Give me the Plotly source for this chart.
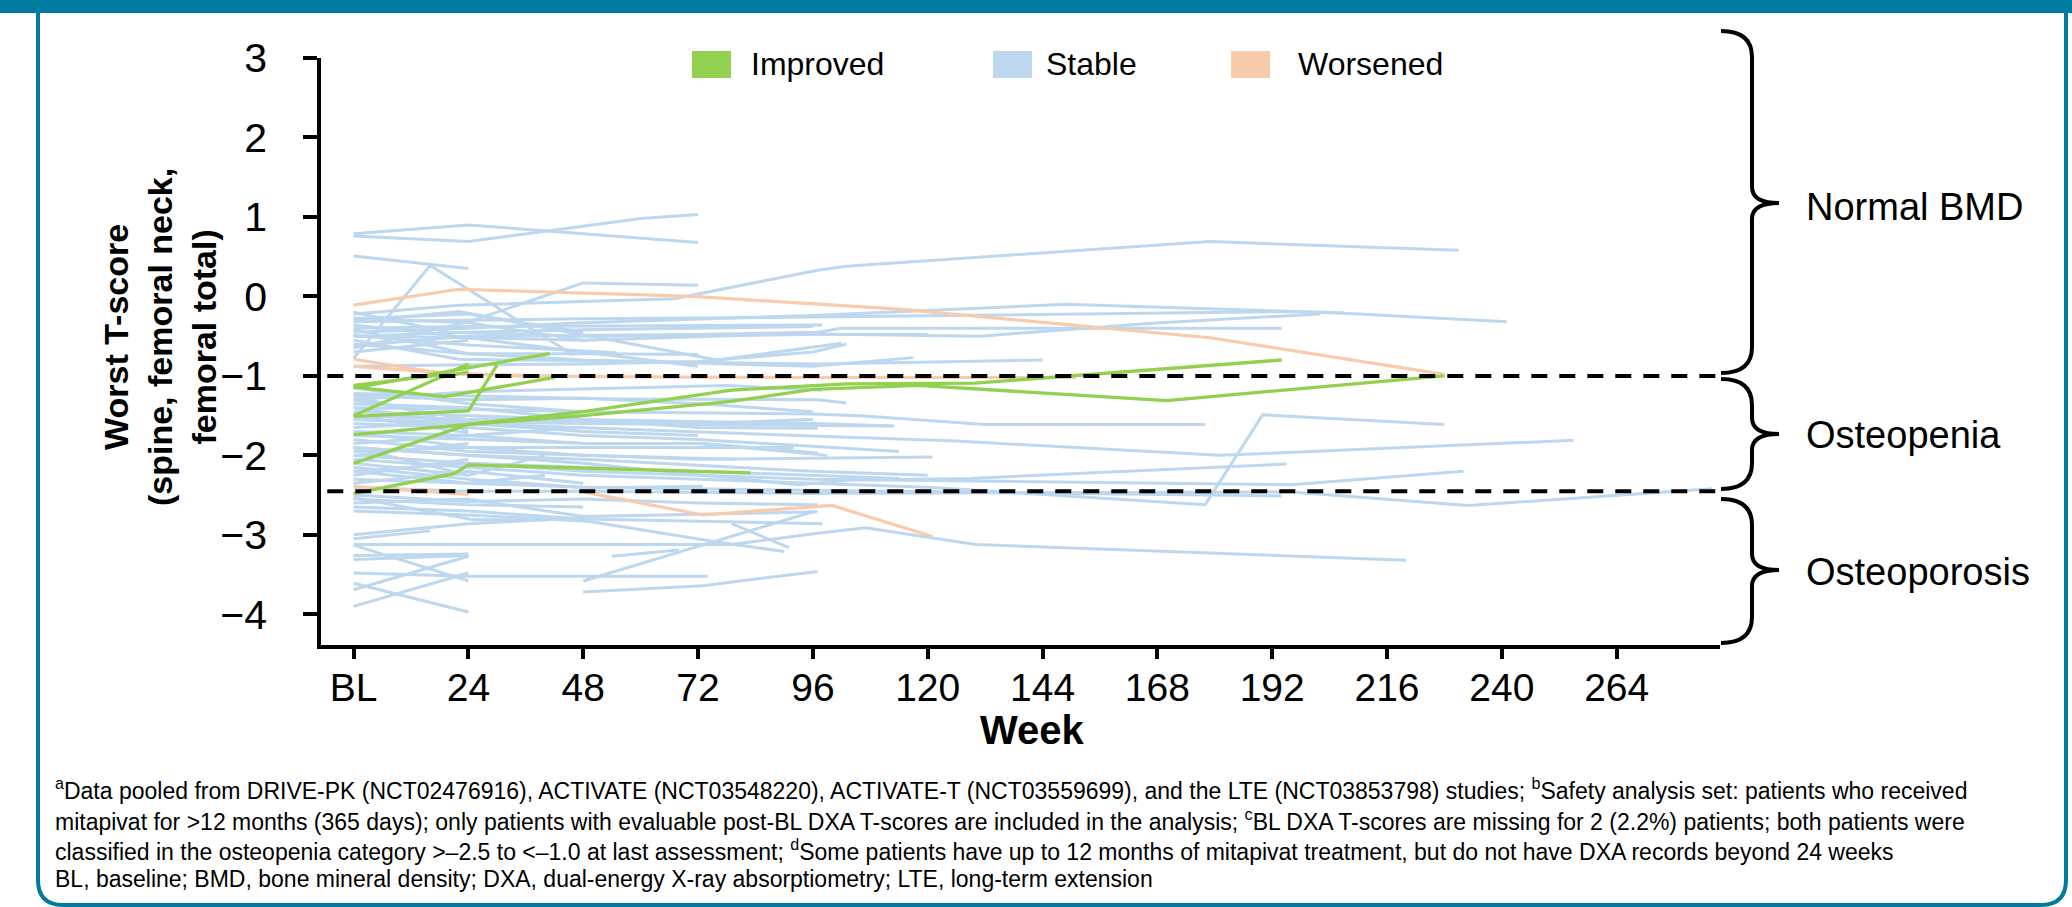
import plotly.graph_objects as go

# ---------------- data ----------------
week_ticks = [0, 24, 48, 72, 96, 120, 144, 168, 192, 216, 240, 264]
week_labels = ["BL", "24", "48", "72", "96", "120", "144", "168", "192", "216", "240", "264"]
t_ticks = [-4, -3, -2, -1, 0, 1, 2, 3]
thresholds = [-1.0, -2.45]
categories = ["Improved", "Stable", "Worsened"]
category_labels = ["Normal BMD", "Osteopenia", "Osteoporosis"]

stable_weeks = [
    [0, 24, 72], [0, 24, 60, 72], [0, 24], [0, 16, 46], [0, 24, 48, 72],
    [0, 22, 67, 97, 103, 179, 231], [0, 24, 48, 96, 196, 206, 241],
    [0, 24, 48, 96, 149, 207], [0, 22, 76, 102], [0, 24, 55], [0, 22, 97, 144],
    [0, 24, 48, 96, 117], [0, 24, 72, 97, 102, 194], [0, 24, 48, 93, 131, 166, 202],
    [0, 24, 48], [0, 24, 72], [0, 24, 48, 72], [0, 20, 48, 96, 120], [0, 24],
    [0, 24, 48, 72, 96, 103], [0, 24, 48], [0, 24, 48, 96], [0, 24, 98],
    # osteopenia band
    [0, 24, 48, 72, 96], [0, 24, 48, 96, 106, 132, 178], [0, 24, 72, 126, 181, 255],
    [0, 24, 48, 72, 120, 178, 190, 228], [0, 24, 48, 93, 104, 129, 195],
    [0, 24, 48, 96, 196, 232], [0, 24, 48, 96, 194], [0, 24, 48, 96, 196, 233, 284],
    [0, 24, 55, 97, 103], [0, 24, 78, 98], [0, 24, 48, 72, 99], [0, 24, 48, 72, 114],
    [0, 24, 48, 72, 121], [0, 24, 48, 96, 113], [0, 24, 48, 72, 114], [0, 24, 48, 72, 97],
    [0, 24, 49, 73, 97], [0, 24, 49, 92], [0, 24, 48], [0, 24, 48], [0, 24], [0, 24, 40],
    [0, 24, 48], [0, 24], [0, 24, 40], [0, 24], [0, 24, 48], [0, 24, 49, 73], [0, 16, 24],
    [0, 24, 48, 72], [0, 24], [0, 24, 40], [0, 24, 48, 80], [0, 24, 48, 96, 120],
    [0, 24, 72, 96], [0, 24, 48, 112],
    # osteoporosis band
    [0, 25, 41], [0, 24, 48, 97], [0, 24, 49, 76, 90], [0, 24, 48, 79, 97, 107, 130, 220],
    [0, 24, 74], [0, 24, 40], [0, 16], [0, 24], [0, 24], [0, 24], [0, 24], [0, 24], [0, 24],
    [48, 73, 97], [48, 96], [54, 68], [79, 91], [0, 24, 48], [0, 24, 48, 98], [0, 24, 48, 72, 97],
]
stable_tscores = [
    [0.79, 0.90, 0.68], [0.76, 0.69, 0.98, 1.03], [0.51, 0.35], [-0.78, 0.39, -0.74],
    [-0.65, -0.32, 0.17, 0.14],
    [-0.22, -0.11, -0.03, 0.33, 0.38, 0.69, 0.58], [-0.32, -0.30, -0.28, -0.26, -0.19, -0.21, -0.32],
    [-0.45, -0.40, -0.33, -0.24, -0.10, -0.21], [-0.32, -0.19, -0.80, -0.59], [-0.49, -0.61, -0.71],
    [-0.55, -0.79, -0.85, -0.80],
    [-0.60, -0.72, -0.80, -0.88, -0.77], [-0.62, -0.50, -0.48, -0.45, -0.40, -0.40],
    [-0.50, -0.52, -0.55, -0.47, -0.50, -0.34, -0.22],
    [-0.28, -0.22, -0.45], [-0.36, -0.52, -0.88], [-0.42, -0.72, -0.72, -0.73],
    [-0.20, -0.45, -0.50, -0.48, -0.48], [-0.70, -0.55],
    [-0.88, -0.86, -0.85, -0.82, -0.70, -0.60], [-0.27, -0.33, -0.55], [-0.50, -0.45, -0.42, -0.38],
    [-0.40, -0.38, -0.36],
    [-1.25, -1.30, -1.28, -1.35, -1.45], [-1.40, -1.42, -1.45, -1.48, -1.50, -1.61, -1.61],
    [-1.55, -1.60, -1.70, -1.82, -2.00, -1.81],
    [-2.05, -2.15, -2.25, -2.30, -2.40, -2.62, -1.49, -1.61], [-1.90, -2.00, -2.10, -2.37, -2.31, -2.29, -2.11],
    [-2.00, -2.10, -2.20, -2.30, -2.37, -2.20], [-2.30, -2.35, -2.40, -2.44, -2.51],
    [-2.40, -2.45, -2.45, -2.48, -2.46, -2.63, -2.42],
    [-1.22, -1.25, -1.29, -1.30, -1.34], [-1.30, -1.20, -1.12, -1.18], [-1.70, -1.75, -1.85, -1.85, -2.00],
    [-1.60, -1.65, -1.75, -1.80, -1.95],
    [-1.80, -1.95, -2.00, -2.05, -2.02], [-1.45, -1.50, -1.55, -1.60, -1.63], [-2.20, -2.10, -2.15, -2.20, -2.29],
    [-1.35, -1.40, -1.55, -1.65, -1.66],
    [-1.75, -1.80, -1.85, -1.85, -1.97], [-1.95, -1.90, -1.90, -1.90], [-1.15, -1.35, -1.45], [-1.30, -1.55, -1.50],
    [-1.50, -1.72], [-1.65, -1.58, -1.50],
    [-1.85, -1.75, -1.65], [-2.00, -1.85], [-2.10, -2.25, -2.00], [-2.25, -2.05], [-2.35, -2.20, -2.35],
    [-2.15, -2.30, -2.41, -2.39], [-1.25, -1.50, -1.70],
    [-1.40, -1.60, -1.70, -1.75], [-1.90, -2.25], [-2.20, -2.35, -2.25], [-1.70, -1.90, -2.00, -2.05],
    [-1.90, -2.00, -2.05, -2.20, -2.25],
    [-1.50, -1.55, -1.60, -1.55], [-1.55, -1.58, -1.60, -1.63],
    [-2.53, -2.81, -2.81], [-2.60, -2.55, -2.77, -2.71], [-2.70, -2.75, -2.83, -3.09, -3.21],
    [-3.12, -3.12, -3.12, -3.12, -2.98, -2.91, -3.12, -3.32],
    [-3.48, -3.52, -3.52], [-3.00, -2.86, -2.81], [-3.05, -2.95], [-3.13, -3.58], [-3.69, -3.27],
    [-3.61, -3.97], [-3.90, -3.48], [-3.26, -3.24], [-3.31, -3.26],
    [-3.72, -3.64, -3.46], [-3.58, -2.71], [-3.27, -3.19], [-2.86, -3.16], [-2.55, -2.62, -2.65],
    [-2.65, -2.70, -2.80, -2.86], [-2.50, -2.58, -2.55, -2.60, -2.62],
]

worsened_weeks = [
    [0, 22, 71, 114, 179, 228], [0, 18, 42], [0, 24, 48, 96, 151], [0, 24], [48, 73, 100, 121],
]
worsened_tscores = [
    [-0.11, 0.09, 0.00, -0.16, -0.52, -0.98], [-0.79, -0.96, -1.02], [-0.88, -0.98, -1.01, -1.02, -1.02],
    [-2.39, -2.49], [-2.46, -2.75, -2.63, -3.02],
]

improved_weeks = [
    [0, 19, 42], [0, 24, 41], [0, 19, 24], [0, 24, 30], [0, 18, 24],
    [0, 24, 48, 79, 96, 118, 170, 228], [0, 24, 48, 79, 103, 130, 194], [0, 21, 24, 83],
]
improved_tscores = [
    [-1.14, -1.26, -1.02], [-1.15, -0.90, -0.72], [-1.12, -0.98, -0.85], [-1.51, -1.44, -0.86],
    [-1.50, -1.02, -0.95],
    [-1.74, -1.61, -1.50, -1.32, -1.17, -1.12, -1.31, -1.00],
    [-2.10, -1.61, -1.45, -1.18, -1.10, -1.09, -0.80],
    [-2.48, -2.23, -2.12, -2.22],
]

colors = {"Improved": "#92D050", "Stable": "#BDD7EE", "Worsened": "#F8CBAD"}
TEAL = "#007A9E"
FONT = "Arial, 'Liberation Sans', sans-serif"

# ---------------- layout geometry ----------------
W, H = 2072, 907
ML, MR, MT, MB = 321, 352, 58, 262
PW = W - ML - MR
PH = H - MT - MB
X_RANGE = [-6.81, 285.6]
Y_RANGE = [-4.386, 3.0]


def px_x(px):
    return (px - ML) / PW


def px_y(py):
    return (H - MB - py) / PH


fig = go.Figure()

series = [
    ("Stable", stable_weeks, stable_tscores, 3.0),
    ("Worsened", worsened_weeks, worsened_tscores, 3.2),
    ("Improved", improved_weeks, improved_tscores, 3.3),
]
for name, wk_list, ts_list, lw in series:
    for wk, ts in zip(wk_list, ts_list):
        fig.add_trace(go.Scatter(
            x=wk, y=ts, mode="lines", name=name, showlegend=False,
            line=dict(color=colors[name], width=lw), hoverinfo="x+y+name",
        ))

shapes = []
# dashed threshold lines
for th in thresholds:
    shapes.append(dict(type="line", xref="x", yref="y", x0=-5.5, x1=X_RANGE[1], y0=th, y1=th,
                       line=dict(color="black", width=4, dash="16px,12px"), layer="above"))


def brace_path(yt, yn, yb, x0=1721, xs=1752, xn=1779, r=26, r2=16):
    def P(x, y):
        return f"{px_x(x):.5f},{px_y(y):.5f}"
    return (f"M {P(x0, yt)} Q {P(xs, yt)} {P(xs, yt + r)} L {P(xs, yn - r2)} "
            f"Q {P(xs, yn)} {P(xn, yn)} Q {P(xs, yn)} {P(xs, yn + r2)} "
            f"L {P(xs, yb - r)} Q {P(xs, yb)} {P(x0, yb)}")


brace_specs = [(31, 203, 373), (379, 434, 489), (499, 570, 643)]
for yt, yn, yb in brace_specs:
    shapes.append(dict(type="path", xref="paper", yref="paper", path=brace_path(yt, yn, yb),
                       line=dict(color="black", width=4)))


# panel frame
def fp(x, y):
    return f"{px_x(x):.5f},{px_y(y):.5f}"


frame = (f"M {fp(38, 0)} L {fp(38, 880)} Q {fp(38, 905)} {fp(63, 905)} L {fp(2041, 905)} "
         f"Q {fp(2066, 905)} {fp(2066, 880)} L {fp(2066, 0)}")
shapes.append(dict(type="path", xref="paper", yref="paper", path=frame, line=dict(color=TEAL, width=4)))
shapes.append(dict(type="rect", xref="paper", yref="paper", x0=px_x(0), x1=px_x(W), y0=px_y(0), y1=px_y(13),
                   fillcolor=TEAL, line=dict(width=0)))

annotations = []
# legend (manual squares)
legend_pos = {"Improved": (692, 749), "Stable": (993, 1044), "Worsened": (1231, 1296)}
for name in categories:
    sx, tx = legend_pos[name]
    shapes.append(dict(type="rect", xref="paper", yref="paper", x0=px_x(sx), x1=px_x(sx + 39),
                       y0=px_y(78), y1=px_y(51), fillcolor=colors[name], line=dict(width=0)))
    annotations.append(dict(xref="paper", yref="paper", x=px_x(tx), y=px_y(64), xanchor="left",
                            yanchor="middle", text=name, showarrow=False,
                            font=dict(family=FONT, size=32, color="black")))

# brace labels
for lab, yc in zip(category_labels, [207, 435, 572]):
    annotations.append(dict(xref="paper", yref="paper", x=px_x(1804), y=px_y(yc), xanchor="left",
                            yanchor="middle", text=lab, showarrow=False,
                            font=dict(family=FONT, size=38, color="black")))

# axis titles
annotations.append(dict(xref="paper", yref="paper", x=px_x(160), y=px_y(337), xanchor="center",
                        yanchor="middle", textangle=-90, showarrow=False,
                        text="<b>Worst T-score<br>(spine, femoral neck,<br>femoral total)</b>",
                        font=dict(family=FONT, size=34, color="black")))
annotations.append(dict(xref="paper", yref="paper", x=px_x(1032), y=px_y(730), xanchor="center",
                        yanchor="middle", showarrow=False, text="<b>Week</b>",
                        font=dict(family=FONT, size=40, color="black")))

# footnotes
foot = [
    "<sup>a</sup>Data pooled from DRIVE-PK (NCT02476916), ACTIVATE (NCT03548220), ACTIVATE-T (NCT03559699), and the LTE (NCT03853798) studies; <sup>b</sup>Safety analysis set: patients who received",
    "mitapivat for >12 months (365 days); only patients with evaluable post-BL DXA T-scores are included in the analysis; <sup>c</sup>BL DXA T-scores are missing for 2 (2.2%) patients; both patients were",
    "classified in the osteopenia category >\u20132.5 to <\u20131.0 at last assessment; <sup>d</sup>Some patients have up to 12 months of mitapivat treatment, but do not have DXA records beyond 24 weeks",
    "BL, baseline; BMD, bone mineral density; DXA, dual-energy X-ray absorptiometry; LTE, long-term extension",
]
for line_text, yc in zip(foot, [789, 820, 850, 879]):
    annotations.append(dict(xref="paper", yref="paper", x=px_x(53), y=px_y(yc), xanchor="left",
                            yanchor="middle", showarrow=False, text=line_text, align="left",
                            font=dict(family=FONT, size=23, color="black")))

fig.update_layout(
    width=W, height=H,
    margin=dict(l=ML, r=MR, t=MT, b=MB, pad=0),
    paper_bgcolor="white", plot_bgcolor="white",
    showlegend=False,
    shapes=shapes, annotations=annotations,
    font=dict(family=FONT, color="black"),
    xaxis=dict(range=X_RANGE, tickvals=week_ticks, ticktext=week_labels, showgrid=False, zeroline=False,
               showline=True, linecolor="black", linewidth=3.5, ticks="outside", ticklen=10, tickwidth=3.5,
               tickcolor="black", ticklabelstandoff=-5, automargin=False,
               tickfont=dict(family=FONT, size=39, color="black")),
    yaxis=dict(range=Y_RANGE, tickvals=t_ticks, showgrid=False, zeroline=False,
               showline=True, linecolor="black", linewidth=3.5, ticks="outside", ticklen=14, tickwidth=3.5,
               tickcolor="black", ticklabelstandoff=28, automargin=False,
               tickfont=dict(family=FONT, size=41, color="black")),
)

fig.write_html("out.html", config={"displayModeBar": False},
               post_script="document.body.style.margin='0px';document.body.style.overflow='hidden';")
